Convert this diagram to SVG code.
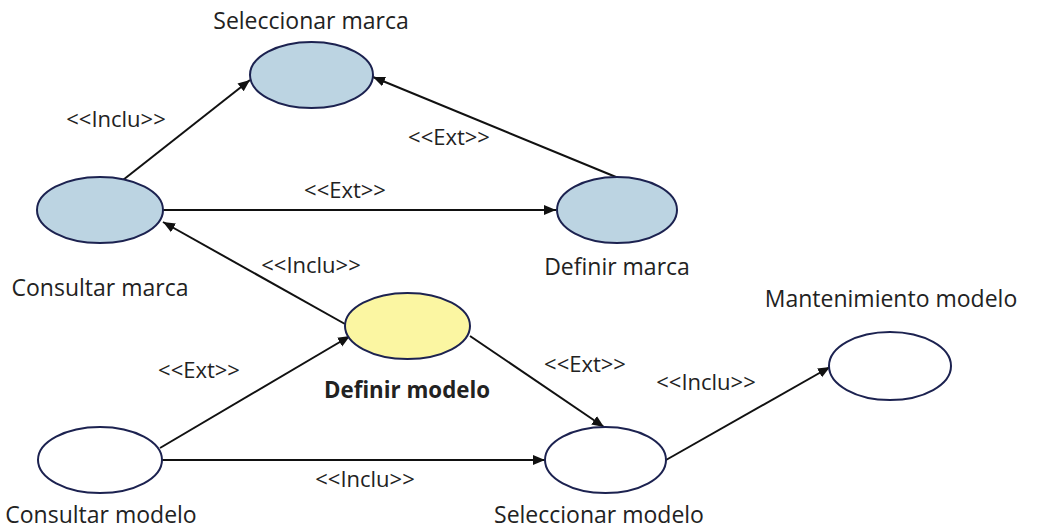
<svg xmlns="http://www.w3.org/2000/svg" width="1037" height="530" viewBox="0 0 1037 530">
<style>
.uc{stroke:#1c2250;stroke-width:2}
.blue{fill:#bcd4e2}
.yellow{fill:#fbf6a2}
.white{fill:#ffffff}
.lbl{font-family:"Open Sans","Liberation Sans",sans-serif;font-size:23px;fill:#222;text-anchor:middle}
.st{font-family:"Open Sans","Liberation Sans",sans-serif;font-size:22px;fill:#222;text-anchor:middle}
.bold{font-weight:bold;font-size:22.3px}
.conn line{stroke:#111;stroke-width:2;fill:none;marker-end:url(#arr)}
</style>
<defs>
<marker id="arr" markerUnits="userSpaceOnUse" markerWidth="14" markerHeight="12" refX="12" refY="6" orient="auto">
<path d="M0,1 L12,6 L0,11 Z" fill="#111"/>
</marker>
</defs>
<rect width="1037" height="530" fill="#fff"/>
<g id="connectors" class="conn">
<line x1="123" y1="180" x2="250" y2="80"/>
<line x1="616" y1="177" x2="373" y2="77"/>
<line x1="163" y1="210" x2="556" y2="210"/>
<line x1="345" y1="324" x2="163" y2="222"/>
<line x1="160" y1="448" x2="350" y2="336"/>
<line x1="470" y1="336" x2="604" y2="427"/>
<line x1="162" y1="460" x2="545" y2="460"/>
<line x1="666" y1="460" x2="830" y2="367"/>
</g>
<g id="stereotypes">
<text class="st" x="116" y="127">&lt;&lt;Inclu&gt;&gt;</text>
<text class="st" x="449" y="145">&lt;&lt;Ext&gt;&gt;</text>
<text class="st" x="345" y="198">&lt;&lt;Ext&gt;&gt;</text>
<text class="st" x="311" y="273">&lt;&lt;Inclu&gt;&gt;</text>
<text class="st" x="199" y="378">&lt;&lt;Ext&gt;&gt;</text>
<text class="st" x="365" y="487">&lt;&lt;Inclu&gt;&gt;</text>
<text class="st" x="585" y="372">&lt;&lt;Ext&gt;&gt;</text>
<text class="st" x="706" y="390">&lt;&lt;Inclu&gt;&gt;</text>
</g>
<g id="seleccionar-marca">
<ellipse class="uc blue" cx="311.5" cy="75" rx="61.5" ry="33"/>
<text class="lbl" x="311" y="29">Seleccionar marca</text>
</g>
<g id="consultar-marca">
<ellipse class="uc blue" cx="100" cy="210" rx="63" ry="33"/>
<text class="lbl" x="100" y="296">Consultar marca</text>
</g>
<g id="definir-marca">
<ellipse class="uc blue" cx="617" cy="210" rx="60" ry="33"/>
<text class="lbl" x="617" y="275">Definir marca</text>
</g>
<g id="definir-modelo">
<ellipse class="uc yellow" cx="407.5" cy="326" rx="62.5" ry="33"/>
<text class="lbl bold" x="407" y="398">Definir modelo</text>
</g>
<g id="consultar-modelo">
<ellipse class="uc white" cx="100" cy="460" rx="62" ry="33"/>
<text class="lbl" x="101" y="523">Consultar modelo</text>
</g>
<g id="seleccionar-modelo">
<ellipse class="uc white" cx="605.5" cy="460" rx="60.5" ry="33"/>
<text class="lbl" x="599" y="523">Seleccionar modelo</text>
</g>
<g id="mantenimiento-modelo">
<ellipse class="uc white" cx="890" cy="366" rx="61" ry="34"/>
<text class="lbl" x="891" y="307">Mantenimiento modelo</text>
</g>
</svg>
